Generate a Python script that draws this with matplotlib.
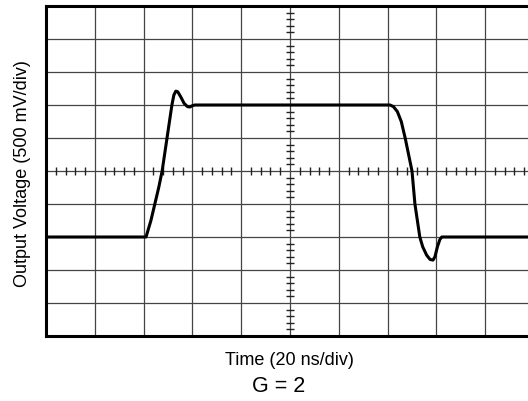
import matplotlib
matplotlib.use('Agg')
import matplotlib.pyplot as plt
import numpy as np

plt.rcParams['font.family'] = ['Liberation Sans', 'DejaVu Sans']

# Trace, in divisions (x: 20 ns/div, y: 500 mV/div)
time_div = [0.0, 2.05, 2.15, 2.23, 2.31, 2.38, 2.43, 2.48, 2.53, 2.58, 2.62,
            2.66, 2.70, 2.76, 2.83, 2.90, 2.95, 3.00, 3.05, 7.05, 7.12, 7.20,
            7.28, 7.36, 7.43, 7.50, 7.53, 7.56, 7.61, 7.66, 7.72, 7.80, 7.87,
            7.93, 7.97, 8.02, 8.07, 8.11, 10.0]
volt_div = [3.0, 3.0, 3.5, 4.0, 4.5, 5.0, 5.5, 6.0, 6.5, 7.0, 7.3,
            7.42, 7.40, 7.25, 7.05, 6.95, 6.94, 6.98, 7.0, 7.0, 6.95, 6.8,
            6.5, 6.0, 5.5, 5.0, 4.5, 4.0, 3.5, 3.0, 2.7, 2.45, 2.32,
            2.3, 2.4, 2.7, 2.92, 3.0, 3.0]

W, H = 528, 402
fig = plt.figure(figsize=(W / 100, H / 100), dpi=100)
ax = fig.add_axes([46 / W, 1 - 337 / H, 488 / W, 330 / H])
ax.set_xlim(0, 10)
ax.set_ylim(0, 10)

# graticule
for i in range(1, 10):
    ax.axvline(i, color='#444444', lw=0.9, zorder=1)
    ax.axhline(i, color='#444444', lw=0.9, zorder=1)

minor = [v for v in np.arange(0.2, 10, 0.2) if abs(v - round(v)) > 1e-6]
ax.plot(minor, [5] * len(minor), ls='none', marker='|', ms=6, mew=1.0,
        color='#222222', zorder=2)
ax.plot([5] * len(minor), minor, ls='none', marker='_', ms=6, mew=1.0,
        color='#222222', zorder=2)

ax.plot(time_div, volt_div, color='black', lw=2.2, zorder=3,
        solid_joinstyle='round')

ax.set_xticks([])
ax.set_yticks([])
for s in ['top', 'left', 'bottom']:
    ax.spines[s].set_linewidth(2.2)
ax.spines['right'].set_visible(False)

fig.text(23 / W, 1 - 174 / H, 'Output Voltage (500 mV/div)', rotation=90,
         ha='center', va='center', fontsize=13)
fig.text(289 / W, 1 - 361 / H, 'Time (20 ns/div)', ha='center', va='center',
         fontsize=13)
fig.text(279 / W, 1 - 387 / H, 'G = 2', ha='center', va='center', fontsize=15.5)

fig.savefig('out.png', dpi=100)
